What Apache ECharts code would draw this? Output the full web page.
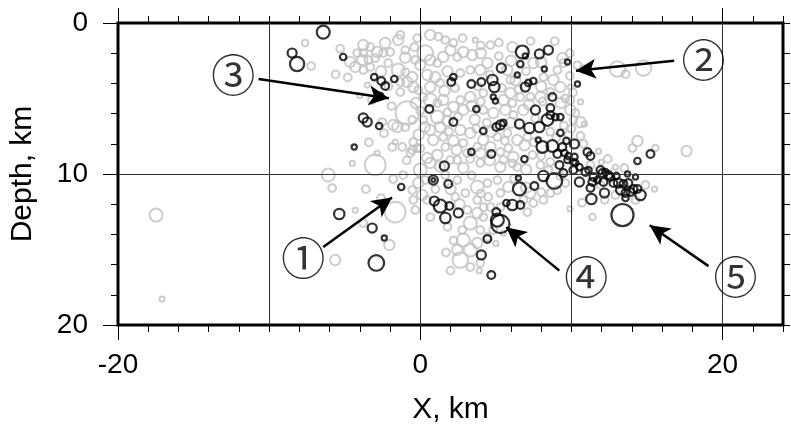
<!DOCTYPE html>
<html><head><meta charset="utf-8">
<script src="https://cdn.jsdelivr.net/npm/echarts@6/dist/echarts.min.js"></script>
<style>html,body{margin:0;padding:0;background:#fff}#c{width:791px;height:433px}</style>
</head><body><div id="c"></div>
<script>
// ---------- data ----------
const xMin = -20, xMax = 24, yMin = 0, yMax = 20;
const xTickLabels = [-20, 0, 20];
const yTickLabels = [0, 10, 20];
const gridX = [-10, 0, 10, 20];
const gridY = [10];
const xTitle = 'X, km';
const yTitle = 'Depth, km';

// [x km, depth km, size class]
const grayQuakes = [
[-1.32,0.79,3],[-1.46,1.13,4],[-0.99,1.79,3],[-3.77,1.46,4],[-3.31,1.59,3],[-2.32,1.32,4],[-4.17,1.99,3],[-3.77,1.99,3],[-2.85,1.92,4],[-2.45,1.99,3],[-1.99,1.92,3],[-4.64,2.58,4],[-4.30,2.91,4],[-3.84,2.45,4],[-3.44,2.45,3],[-2.98,2.32,3],[-3.31,2.91,3],[-3.77,3.11,3],[-2.12,2.65,3],[-1.46,3.11,5],[-0.99,3.25,3],[-0.53,3.58,4],[-0.86,3.91,4],[-1.32,3.91,3],[-0.46,4.24,4],[-1.32,4.57,3],[-0.13,4.44,3],[0.33,1.99,6],[0.66,2.45,4],[1.13,2.65,3],[1.52,2.25,4],[0.00,2.78,4],[-0.33,2.45,3],[0.46,3.44,4],[0.99,3.58,4],[1.32,3.97,3],[0.66,4.24,4],[0.20,4.90,3],[0.66,5.10,5],[1.13,5.30,3],[1.52,5.10,4],[-0.86,5.96,9],[-1.52,6.89,4],[-0.53,6.42,3],[-1.66,7.88,2],[-1.85,8.21,3],[-1.19,8.21,3],[-0.46,7.88,3],[0.20,6.42,3],[1.13,6.23,5],[0.66,7.09,4],[1.32,6.89,4],[0.86,7.75,4],[1.52,7.55,3],[-0.20,8.28,3],[1.66,8.21,3],
[-7.62,1.32,2.5],[-7.22,2.85,3],[-3.51,4.11,2],[-2.52,6.56,3],[-1.79,6.75,4],[-2.85,8.61,2],[-2.98,9.40,8],[-0.53,8.41,3],
[-0.66,8.61,3],[-1.79,10.33,3],[-1.13,10.07,3],[-1.66,12.52,8],[-0.53,11.06,3],[-0.13,10.60,4],[-0.46,11.72,3],[0.13,11.39,4],[0.00,9.74,5],[0.46,8.94,4],[0.66,9.27,4],[0.46,11.72,3],[-0.33,12.38,3],[0.66,12.85,3],[-2.05,14.70,4],[-5.63,15.70,4],[-5.83,10.93,3],[-6.09,10.07,5],
[-17.48,12.72,5],[-17.09,18.28,2],[-3.77,13.25,3],
[2.45,9.07,3],[3.11,8.61,3],[3.97,8.61,4],[5.30,8.54,3],[5.50,9.07,3],[6.16,8.87,4],[7.42,8.74,3],[7.95,9.40,3],[6.42,9.54,3],[5.30,9.54,4],[3.97,9.27,3],[2.85,9.60,4],[2.45,10.40,3],[3.77,10.86,5],[4.44,10.60,3],[5.10,10.40,3],[5.83,10.86,4],[5.30,11.26,3],[4.50,11.52,3],[3.77,11.72,3],[2.98,11.26,3],[2.32,11.52,3],[3.11,12.38,3],[3.77,12.58,4],[4.17,12.85,3],[3.31,13.25,5],[2.78,13.71,3],[3.97,13.71,3],[4.83,13.71,3],[4.44,14.17,3],[2.85,14.37,5],[3.77,14.57,4],[2.45,15.03,4],[3.31,15.03,5],[2.65,15.70,6],[3.97,15.89,3],[3.31,16.16,3],[7.28,11.26,4],[6.82,11.72,3],[7.48,11.92,3],[8.15,11.72,3],[8.61,11.26,3],[9.07,11.06,3],[9.60,10.60,3],[7.09,12.52,3],[5.30,12.19,3],[4.64,12.19,3],[5.50,13.91,2],
[2.19,1.32,3],[2.85,1.92,4],[3.44,2.12,4],[2.45,2.25,3],[4.44,2.65,4],[3.97,3.11,4],[3.31,3.11,3],[2.65,3.31,3],[5.76,3.11,4],[5.96,3.77,3],[7.48,2.65,4],[8.15,3.58,3],[8.81,3.77,4],[9.07,3.11,3],[9.47,2.65,3],[9.27,4.24,4],[8.61,4.57,3],[7.95,4.90,4],[7.28,4.90,3],[6.62,4.90,3],[5.96,4.64,4],[5.50,5.10,4],[4.17,4.64,3],[3.31,4.90,4],[2.65,5.10,3],[2.19,5.56,4],[2.85,5.76,4],[4.17,5.76,3],[4.83,5.96,4],[5.63,5.76,4],[6.16,6.09,3],[6.82,5.76,4],[2.65,7.09,4],[3.31,7.28,4],[4.17,7.75,4],[5.10,7.55,3],[5.76,7.28,3],[6.42,7.75,4],[7.09,7.55,3],[2.85,7.95,3],[3.77,8.21,3],[4.64,8.21,4],[5.83,8.28,3],
[13.05,3.05,6],[13.58,3.38,3],[14.77,2.98,6],[10.79,3.05,3],[9.93,5.76,4],[10.13,6.42,3],[10.60,6.56,4],[10.86,6.69,2],[10.60,7.48,3],[14.37,7.81,4],[14.04,8.28,3],[15.56,8.28,2.5],[9.93,5.10,3],[9.93,4.24,2],[17.62,8.48,4],
[10.60,5.23,2],[10.26,5.96,3],[9.80,7.42,3],[11.39,12.85,2.5],[11.99,9.21,2],[12.91,9.54,2],[11.26,9.40,3],[11.92,10.73,3],[12.91,11.39,3],[14.90,10.73,3],[14.24,11.72,3],[9.27,10.13,3],[8.48,9.74,3],[1.13,8.74,4],[1.66,10.07,3],[0.33,10.40,3],[1.99,9.07,3],[0.66,0.79,4],[1.66,1.13,3],[3.64,1.13,2],[4.64,1.46,3],[9.40,2.32,4],
[-0.2,1.0,3],[1.2,0.9,3],[2.8,1.0,3],[4.0,1.5,3],[5.2,1.3,3],[6.1,1.6,4],[7.3,1.2,3],[8.9,1.2,3],
[-5.3,1.7,3],[-1.0,2.3,4],[-0.4,1.6,3],[2.0,1.8,4],[4.0,2.0,4],[5.2,2.2,3],[6.0,2.5,4],[8.0,2.6,4],[9.9,2.0,3],[10.4,2.8,3],
[-5.6,3.4,3],[-4.8,3.6,3],[-2.6,3.2,4],[1.8,3.2,4],[4.6,3.4,3],[6.3,3.8,4],[7.0,3.2,3],[8.0,4.2,4],[9.9,3.5,3],
[-2.1,4.2,3],[1.6,4.5,4],[2.3,4.3,3],[3.8,4.2,3],[5.4,4.3,3],[6.5,4.4,3],[9.6,5.0,3],[10.1,4.6,3],
[-0.3,5.3,4],[0.0,5.8,3],[1.8,5.9,3],[3.4,5.5,4],[4.0,5.2,3],[6.1,5.3,3],[7.2,5.4,4],[8.1,5.2,3],[9.3,5.3,4],
[-1.0,6.9,3],[0.3,6.9,4],[1.8,6.5,4],[2.5,6.2,3],[3.6,6.4,4],[4.4,6.6,3],[6.0,6.6,4],[7.6,6.3,3],[9.5,6.8,3],[10.0,7.0,3],
[-0.1,7.4,4],[1.9,7.2,3],[2.2,7.8,4],[3.7,7.0,3],[4.7,7.2,4],[5.6,7.8,3],[6.9,8.1,4],[7.5,7.9,3],[8.6,7.2,3],[9.0,7.6,3],
[0.0,8.3,3],[2.4,8.4,4],[3.3,9.0,3],[4.6,9.1,4],[6.1,9.3,3],[7.0,9.7,4],[8.0,8.8,3],[8.6,9.2,3],[1.3,9.5,4],[-0.9,9.1,3],
[1.0,11.0,3],[2.0,11.0,4],[3.4,10.1,3],[4.0,11.3,3],[6.2,10.3,3],[7.0,10.9,4],[8.0,11.2,3],[2.6,12.0,4],[4.2,12.2,3],[1.8,13.5,3],[2.2,14.4,3],[5.0,14.6,2],[1.7,15.2,3],[3.9,16.4,2],[2.0,16.4,3],
[-3.2,5.1,3],[-4.0,4.8,2],[-1.9,5.5,3],[-2.4,7.3,3],[-3.4,7.9,3],[-4.5,9.3,2],[-3.6,11.0,3],[-2.6,11.6,3],[-4.3,12.4,2],
[10.8,8.0,3],[11.8,8.5,2],[12.4,9.0,3],[13.5,9.6,3],[12.2,11.7,3],[15.5,11.0,2],[10.7,11.9,3],[9.9,12.3,2]
];

const blackQuakes = [
[-6.42,0.60,5],[-8.48,1.99,3.5],[-8.15,2.72,5.5],[-5.10,2.25,2.5],[-3.05,3.58,2.5],[-2.58,3.84,3],[-2.32,4.17,3],[-1.72,3.71,2.5],[-2.65,4.83,2.5],[0.60,5.70,3],[-3.77,6.29,3.5],[-3.51,6.56,3.5],[-2.72,6.82,2.5],[-4.37,8.21,2],[1.59,9.47,3.5],
[2.05,3.91,3],[2.19,3.58,2.5],[3.38,4.04,3],[4.04,3.91,3],[4.77,3.77,4],[4.90,4.24,4],[5.36,2.98,3.5],[4.83,4.90,2],[4.97,5.17,2],[3.71,5.70,2.5],[2.19,6.56,3],[4.17,7.15,2.5],[5.03,6.89,3],[5.30,6.75,3.5],[5.50,6.62,2.5],[6.56,6.69,3.5],[7.22,6.95,4],[7.88,6.89,4],[8.41,6.42,4.5],[7.62,5.76,3.5],[8.61,5.63,3],[8.61,6.09,3],[8.94,6.23,2.5],[9.27,6.23,2.5],
[6.75,1.92,5],[6.95,2.19,2],[6.62,2.72,2.5],[7.88,2.05,3.5],[8.48,1.79,3.5],[8.21,3.05,2],[9.74,2.58,2],[10.40,4.04,2],[6.42,3.44,2],[6.95,4.24,3.5],[7.15,3.97,2.5],[7.48,3.84,2.5],[8.74,4.90,3],
[9.27,7.28,2.5],[9.67,7.81,2.5],[10.20,8.01,3.5],[7.81,7.75,2],[8.08,8.21,4.5],[8.74,8.15,4.5],[9.40,8.21,3],[3.38,8.54,2.5],[4.70,8.68,3],[6.89,9.01,2.5],[9.07,8.68,3],[9.54,8.61,2.5],[9.80,8.81,2.5],[10.20,8.87,2.5],[9.74,9.07,2.5],[9.21,9.40,3],[9.47,9.93,3],[10.13,9.21,2.5],[10.53,9.54,2.5],[11.06,8.54,3],[11.26,8.81,3],[14.37,9.14,2.5],[15.23,8.68,3],
[0.86,10.40,3.5],[0.86,10.40,1.5],[1.85,10.66,3],[0.93,11.79,3.5],[1.32,12.12,5],[1.92,12.12,3],[1.66,12.91,4],[2.52,12.58,3.5],[5.03,12.52,3],[5.10,13.05,5],[5.30,13.31,7],[4.44,14.30,3],[4.04,15.36,3.5],[4.70,16.69,3],[5.70,11.92,2.5],[6.09,12.05,4],[6.62,12.05,3],[6.56,10.99,5],[7.55,10.79,3],[8.15,10.13,4],[8.87,10.46,6],[6.49,10.26,2],
[-1.26,10.86,2.5],[-5.36,12.65,4],[-3.18,13.58,3.5],[-2.38,14.24,2],[-2.91,15.89,6],
[10.26,9.27,2.5],[10.13,9.74,3],[10.53,10.53,3.5],[10.93,9.87,3],[11.13,9.74,2.5],[11.46,10.20,3],[11.92,9.74,3],[12.05,9.93,3],[12.25,9.87,2.5],[12.45,10.07,3],[12.58,10.20,3],[11.39,10.53,3],[11.26,10.93,3],[11.32,11.66,4],[12.19,11.26,3.5],[11.72,10.40,2.5],[12.12,10.53,3],[12.78,10.60,3],[13.11,10.60,3.5],[13.44,10.66,3],[13.77,10.60,3],[14.24,10.20,2],[13.25,11.06,3.5],[13.58,11.26,3],[13.91,11.19,3],[14.11,10.99,3],[14.57,11.39,4],[13.58,11.59,2.5],[13.71,10.00,2],[13.38,12.72,8.5],[14.37,10.99,3],[12.98,10.13,2.5]
];

const noteNames = ['①', '②', '③', '④', '⑤'];
const notePos   = [[-7.75,15.56],[18.74,2.45],[-12.38,3.44],[10.99,16.82],[20.86,16.82]];
const arrowFrom = [[-6.42,14.83],[16.8,2.5],[-10.7,3.71],[9.2,16.4],[19.07,16.1]];
const arrowTo   = [[-1.87,11.55],[10.3,3.17],[-2.08,4.98],[5.69,13.52],[15.18,13.39]];

// ---------- chart ----------
const FONT = '"Liberation Sans", Arial, Helvetica, sans-serif';
const chart = echarts.init(document.getElementById('c'), null, {renderer: 'canvas'});

function xAxisDef(pos, major, labels) {
  return {
    type: 'value', position: pos, min: xMin, max: xMax, interval: 2,
    axisLine: {show: false, onZero: false},
    axisTick: major
      ? {show: true, length: 15, customValues: xTickLabels, lineStyle: {color: '#000', width: 1}}
      : {show: true, length: 7, lineStyle: {color: '#000', width: 1}},
    axisLabel: labels
      ? {show: true, customValues: xTickLabels, fontSize: 28, color: '#000', fontFamily: FONT, margin: 26}
      : {show: false},
    splitLine: {show: false},
    name: labels ? xTitle : '', nameLocation: 'middle', nameGap: 70,
    nameTextStyle: {fontSize: 30, color: '#000', fontFamily: FONT}
  };
}
function yAxisDef(pos, major, labels) {
  return {
    type: 'value', position: pos, min: yMin, max: yMax, interval: 2, inverse: true,
    axisLine: {show: false, onZero: false},
    axisTick: major
      ? {show: true, length: 15, customValues: yTickLabels, lineStyle: {color: '#000', width: 1}}
      : {show: true, length: 7, lineStyle: {color: '#000', width: 1}},
    axisLabel: labels
      ? {show: true, customValues: yTickLabels, fontSize: 28, color: '#000', fontFamily: FONT, margin: 30}
      : {show: false},
    splitLine: {show: false},
    name: labels ? yTitle : '', nameLocation: 'middle', nameGap: 80,
    nameTextStyle: {fontSize: 30, color: '#000', fontFamily: FONT}
  };
}

const gridLines = gridX.map(v => ({xAxis: v})).concat(gridY.map(v => ({yAxis: v})));
const sizeOf = v => v[2] * 2.6;

const option = {
  animation: false,
  backgroundColor: '#fff',
  grid: {left: 118, top: 23, width: 665, height: 302, show: true, borderColor: '#000', borderWidth: 3, backgroundColor: 'transparent', containLabel: false},
  xAxis: [xAxisDef('bottom', false, false), xAxisDef('bottom', true, true), xAxisDef('top', false, false), xAxisDef('top', true, false)],
  yAxis: [yAxisDef('left', false, false), yAxisDef('left', true, true), yAxisDef('right', false, false)],
  series: [
    {
      type: 'scatter', xAxisIndex: 0, yAxisIndex: 0, z: 2,
      data: grayQuakes, symbol: 'circle', symbolSize: sizeOf,
      itemStyle: {color: 'rgba(0,0,0,0)', borderColor: '#c0c0c0', borderWidth: 2},
      emphasis: {disabled: true}, silent: true,
      markLine: {
        silent: true, symbol: ['none', 'none'], label: {show: false},
        lineStyle: {color: '#333', width: 1, type: 'solid'},
        emphasis: {disabled: true},
        data: gridLines
      }
    },
    {
      type: 'scatter', xAxisIndex: 0, yAxisIndex: 0, z: 3,
      data: blackQuakes, symbol: 'circle', symbolSize: sizeOf,
      itemStyle: {color: 'rgba(0,0,0,0)', borderColor: '#000', borderWidth: 2.2},
      emphasis: {disabled: true}, silent: true
    },
    {
      type: 'scatter', xAxisIndex: 0, yAxisIndex: 0, z: 4, data: [],
      markLine: {
        silent: true, symbol: ['none', 'arrow'], symbolSize: [15, 20],
        label: {show: false}, emphasis: {disabled: true},
        lineStyle: {color: '#000', width: 2.5, type: 'solid'},
        itemStyle: {color: '#000'},
        data: arrowFrom.map((p, i) => [{coord: p}, {coord: arrowTo[i]}])
      }
    },
    {
      type: 'scatter', xAxisIndex: 0, yAxisIndex: 0, z: 5,
      data: notePos.map((p, i) => ({name: noteNames[i], value: p})),
      symbolSize: 1, itemStyle: {color: 'rgba(0,0,0,0)'},
      silent: true, emphasis: {disabled: true},
      label: {show: true, position: 'inside', formatter: '{b}', fontSize: 44, color: '#000', fontFamily: '"Noto Sans CJK JP", "DejaVu Sans", sans-serif'}
    }
  ]
};
chart.setOption(option);
</script></body></html>
